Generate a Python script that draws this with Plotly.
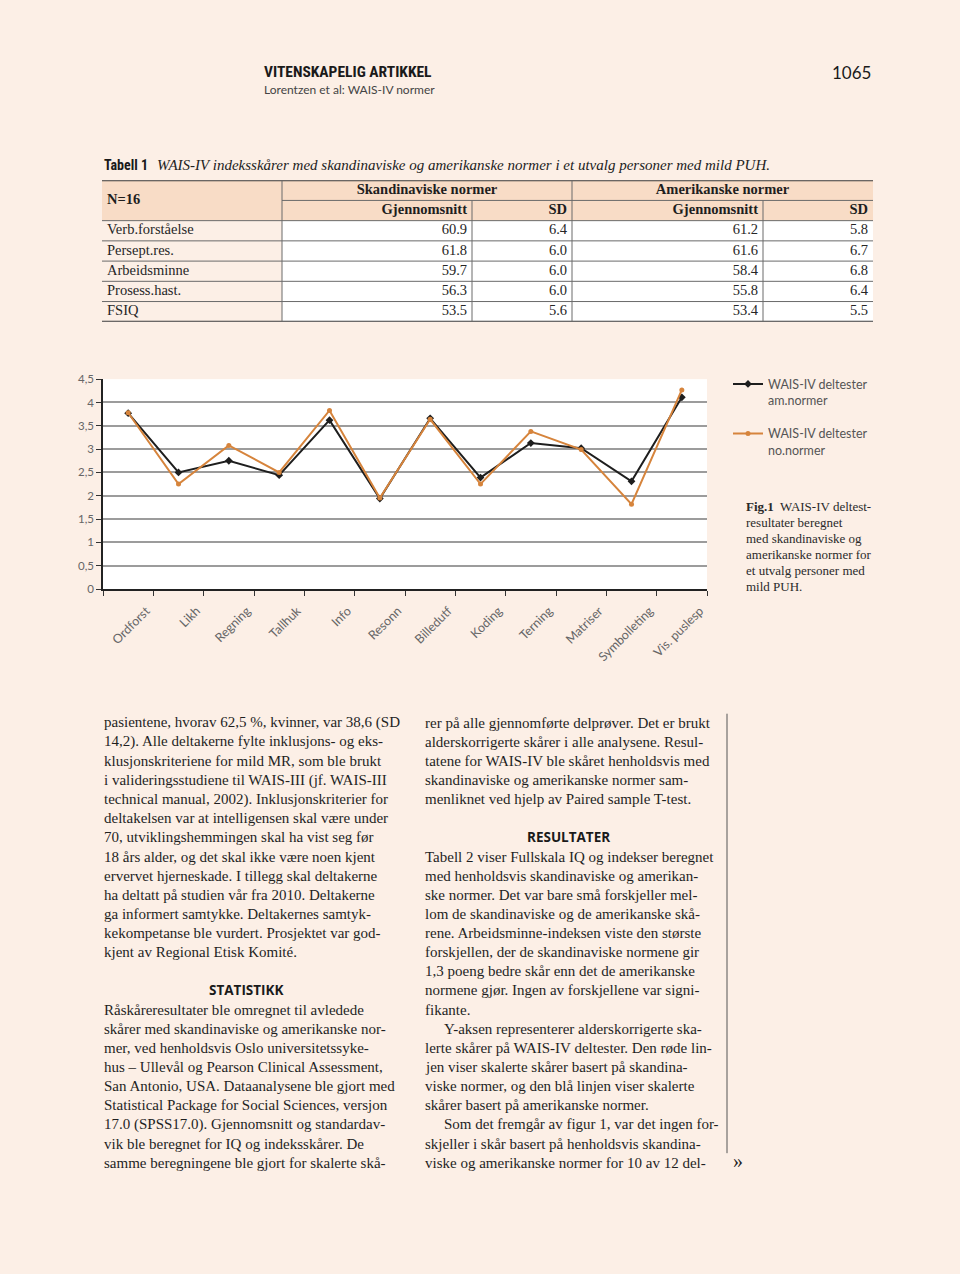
import plotly.graph_objects as go

W, H = 960, 1274
BG = "#fcefe6"
PEACH = "#f8dcc6"
INK = "#1f1f1f"

# ---------------- data ----------------
subtests = ["Ordforst", "Likh", "Regning", "Tallhuk", "Info", "Resonn",
            "Billedutf", "Koding", "Terning", "Matriser", "Symbolleting", "Vis. puslesp"]
am_normer = [3.77, 2.50, 2.75, 2.44, 3.62, 1.94, 3.66, 2.39, 3.13, 3.02, 2.31, 4.11]
no_normer = [3.78, 2.25, 3.08, 2.50, 3.83, 1.95, 3.64, 2.25, 3.38, 2.99, 1.82, 4.27]

table_rows = ["Verb.forståelse", "Persept.res.", "Arbeidsminne", "Prosess.hast.", "FSIQ"]
skand_mean = [60.9, 61.8, 59.7, 56.3, 53.5]
skand_sd = [6.4, 6.0, 6.0, 6.0, 5.6]
amer_mean = [61.2, 61.6, 58.4, 55.8, 53.4]
amer_sd = [5.8, 6.7, 6.8, 6.4, 5.5]
group_headers = ["Skandinaviske normer", "Amerikanske normer"]
sub_headers = ["Gjennomsnitt", "SD", "Gjennomsnitt", "SD"]
n_label = "N=16"

left_col = [
    "pasientene, hvorav 62,5 %, kvinner, var 38,6 (SD",
    "14,2). Alle deltakerne fylte inklusjons- og eks-",
    "klusjonskriteriene for mild MR, som ble brukt",
    "i valideringsstudiene til WAIS-III (jf. WAIS-III",
    "technical manual, 2002). Inklusjonskriterier for",
    "deltakelsen var at intelligensen skal være under",
    "70, utviklingshemmingen skal ha vist seg før",
    "18 års alder, og det skal ikke være noen kjent",
    "ervervet hjerneskade. I tillegg skal deltakerne",
    "ha deltatt på studien vår fra 2010. Deltakerne",
    "ga informert samtykke. Deltakernes samtyk-",
    "kekompetanse ble vurdert. Prosjektet var god-",
    "kjent av Regional Etisk Komité.",
    "",
    "#STATISTIKK",
    "Råskåreresultater ble omregnet til avledede",
    "skårer med skandinaviske og amerikanske nor-",
    "mer, ved henholdsvis Oslo universitetssyke-",
    "hus – Ullevål og Pearson Clinical Assessment,",
    "San Antonio, USA. Dataanalysene ble gjort med",
    "Statistical Package for Social Sciences, versjon",
    "17.0 (SPSS17.0). Gjennomsnitt og standardav-",
    "vik ble beregnet for IQ og indeksskårer. De",
    "samme beregningene ble gjort for skalerte skå-",
]
right_col = [
    "rer på alle gjennomførte delprøver. Det er brukt",
    "alderskorrigerte skårer i alle analysene. Resul-",
    "tatene for WAIS-IV ble skåret henholdsvis med",
    "skandinaviske og amerikanske normer sam-",
    "menliknet ved hjelp av Paired sample T-test.",
    "",
    "#RESULTATER",
    "Tabell 2 viser Fullskala IQ og indekser beregnet",
    "med henholdsvis skandinaviske og amerikan-",
    "ske normer. Det var bare små forskjeller mel-",
    "lom de skandinaviske og de amerikanske skå-",
    "rene. Arbeidsminne-indeksen viste den største",
    "forskjellen, der de skandinaviske normene gir",
    "1,3 poeng bedre skår enn det de amerikanske",
    "normene gjør. Ingen av forskjellene var signi-",
    "fikante.",
    ">Y-aksen representerer alderskorrigerte ska-",
    "lerte skårer på WAIS-IV deltester. Den røde lin-",
    "jen viser skalerte skårer basert på skandina-",
    "viske normer, og den blå linjen viser skalerte",
    "skårer basert på amerikanske normer.",
    ">Som det fremgår av figur 1, var det ingen for-",
    "skjeller i skår basert på henholdsvis skandina-",
    "viske og amerikanske normer for 10 av 12 del-",
]
caption_lines = ["<b>Fig.1</b>  WAIS-IV deltest-", "resultater beregnet", "med skandinaviske og",
                 "amerikanske normer for", "et utvalg personer med", "mild PUH."]

# ---------------- fonts ----------------
SERIF = "Liberation Serif, DejaVu Serif, serif"
SANS = "Open Sans, Liberation Sans, sans-serif"
LIGHT = "Lato, Open Sans, Liberation Sans, sans-serif"
COND = "Liberation Sans Narrow, Roboto Condensed, Roboto, Liberation Sans, sans-serif"


def px(x):
    return x / W


def py(y):
    return 1 - y / H


fig = go.Figure()

# ---------------- chart ----------------
fig.add_trace(go.Scatter(
    x=subtests, y=am_normer, name="WAIS-IV deltester<br>am.normer", legendgroup="am",
    mode="lines+markers", line=dict(color="#1e1e1e", width=2),
    marker=dict(symbol="diamond", size=6, color="#1e1e1e"), xaxis="x", yaxis="y"))
fig.add_trace(go.Scatter(
    x=subtests, y=no_normer, name="WAIS-IV deltester<br>no.normer", legendgroup="no",
    mode="lines+markers", line=dict(color="#d6843c", width=2),
    marker=dict(symbol="circle", size=5, color="#d6843c"), xaxis="x", yaxis="y"))

# ---------------- table (own hidden axes) ----------------
col_edges = [0, 180, 370, 470, 661, 771]  # widths in px units
n_rows = 2 + len(table_rows)
row_mid = [2.5 + i for i in range(len(table_rows))]
tfont = dict(family=SERIF, size=14.5, color="#262626")
pad = 5

fig.add_trace(go.Scatter(x=[pad] * len(table_rows), y=row_mid, text=table_rows, mode="text",
                         textposition="middle right", textfont=tfont, showlegend=False,
                         hoverinfo="skip", xaxis="x2", yaxis="y2"))
for j, col in enumerate([skand_mean, skand_sd, amer_mean, amer_sd]):
    fig.add_trace(go.Scatter(x=[col_edges[j + 2] - pad] * len(col), y=row_mid,
                             text=[f"{v:.1f}" for v in col], mode="text",
                             textposition="middle left", textfont=tfont, showlegend=False,
                             hoverinfo="skip", xaxis="x2", yaxis="y2"))
hfont = dict(family=SERIF, size=14.5, color="#1e1e1e")
fig.add_trace(go.Scatter(x=[col_edges[j + 2] - pad for j in range(4)], y=[1.5] * 4,
                         text=[f"<b>{s}</b>" for s in sub_headers], mode="text",
                         textposition="middle left", textfont=hfont, showlegend=False,
                         hoverinfo="skip", xaxis="x2", yaxis="y2"))
fig.add_trace(go.Scatter(x=[(col_edges[1] + col_edges[3]) / 2, (col_edges[3] + col_edges[5]) / 2],
                         y=[0.5, 0.5], text=[f"<b>{s}</b>" for s in group_headers], mode="text",
                         textposition="middle center", textfont=hfont, showlegend=False,
                         hoverinfo="skip", xaxis="x2", yaxis="y2"))
fig.add_trace(go.Scatter(x=[pad], y=[1.0], text=[f"<b>{n_label}</b>"], mode="text",
                         textposition="middle right", textfont=hfont, showlegend=False,
                         hoverinfo="skip", xaxis="x2", yaxis="y2"))

shapes = []
tb = dict(xref="x2", yref="y2", layer="below")
shapes.append(dict(type="rect", x0=0, x1=col_edges[-1], y0=0, y1=2, fillcolor=PEACH,
                   line=dict(width=0), **tb))
shapes.append(dict(type="rect", x0=0, x1=col_edges[1], y0=2, y1=n_rows, fillcolor=BG,
                   line=dict(width=0), **tb))
LC = "#6a6a6a"
shapes.append(dict(type="line", x0=col_edges[1], x1=col_edges[-1], y0=1, y1=1,
                   line=dict(color=LC, width=1), **tb))
for r in range(2, n_rows):
    shapes.append(dict(type="line", x0=0, x1=col_edges[-1], y0=r, y1=r,
                       line=dict(color=LC, width=1), **tb))
for r in (0, n_rows):
    shapes.append(dict(type="line", x0=0, x1=col_edges[-1], y0=r, y1=r,
                       line=dict(color="#3a3a3a", width=2), **tb))
for c in (col_edges[1], col_edges[3]):
    shapes.append(dict(type="line", x0=c, x1=c, y0=0, y1=n_rows, line=dict(color=LC, width=1), **tb))
for c in (col_edges[2], col_edges[4]):
    shapes.append(dict(type="line", x0=c, x1=c, y0=1, y1=n_rows, line=dict(color=LC, width=1), **tb))

# column divider in body text
shapes.append(dict(type="line", xref="paper", yref="paper", x0=px(727), x1=px(727),
                   y0=py(714), y1=py(1158), line=dict(color="#555", width=1)))

# ---------------- annotations ----------------
ann = []


def T(x, y, text, size, family, color=INK, xanchor="left"):
    ann.append(dict(xref="paper", yref="paper", x=px(x), y=py(y), text=text, showarrow=False,
                    xanchor=xanchor, yanchor="middle", align="left",
                    font=dict(size=size, family=family, color=color)))


T(262, 66, "<b>VITENSKAPELIG ARTIKKEL</b>", 15.5, COND, "#1a1a1a")
T(262, 83, "Lorentzen et al: WAIS-IV normer", 12, LIGHT, "#444")
T(873, 66, "1065", 17, LIGHT, "#1a1a1a", xanchor="right")

T(102, 160, "<b>Tabell 1</b>", 14, COND, "#1a1a1a")
T(155, 160, "<i>WAIS-IV indeksskårer med skandinaviske og amerikanske normer i et utvalg personer med mild PUH.</i>",
  15, SERIF, "#222")

LINE = 19.33
for col_x, lines in ((102, left_col), (423, right_col)):
    for i, s in enumerate(lines):
        if not s:
            continue
        y = 723 + i * LINE
        if s.startswith("#"):
            T(col_x + 145, y, f"<b>{s[1:]}</b>", 13.5, SANS, "#1a1a1a", xanchor="center")
        elif s.startswith(">"):
            T(col_x + 19, y, s[1:], 15, SERIF, INK)
        else:
            T(col_x, y, s, 15, SERIF, INK)

T(731, 1166, "»", 20, SERIF, INK)

for i, s in enumerate(caption_lines):
    T(744, 505 + i * 16, s, 13, SERIF, "#2a2a2a")

fig.update_layout(
    width=W, height=H, margin=dict(l=0, r=0, t=0, b=0),
    paper_bgcolor=BG, plot_bgcolor="white", separators=", ",
    showlegend=True,
    legend=dict(x=px(728), y=py(366), xanchor="left", yanchor="top", bgcolor="rgba(0,0,0,0)",
                font=dict(family=LIGHT, size=12.5, color="#555"), itemwidth=30,
                tracegroupgap=14, valign="top"),
    xaxis=dict(domain=[px(103), px(707)], anchor="y", type="category", range=[-0.5, 11.5],
               showline=True, linecolor="#222", linewidth=1.5, ticks="outside", tickson="boundaries",
               ticklen=5, tickcolor="#333", tickangle=-45, showgrid=False,
               tickfont=dict(family=LIGHT, size=12.5, color="#666"), ticklabelstandoff=8,
               ticklabelshift=18, fixedrange=True),
    yaxis=dict(domain=[py(588), py(376)], anchor="x", range=[0, 4.5], dtick=0.5, tick0=0,
               showgrid=True, gridcolor="#9c9c9c", gridwidth=1.5, zeroline=False,
               showline=True, linecolor="#222", linewidth=1.5, ticks="outside", ticklen=5,
               tickcolor="#333", tickfont=dict(family=LIGHT, size=11.5, color="#666"),
               fixedrange=True),
    xaxis2=dict(domain=[px(102), px(873)], anchor="y2", range=[0, col_edges[-1]], visible=False,
                fixedrange=True),
    yaxis2=dict(domain=[py(318), py(175)], anchor="x2", range=[n_rows, 0], visible=False,
                fixedrange=True),
    shapes=shapes,
    annotations=ann,
)

fig.write_html("out.html", config={"displayModeBar": False},
               post_script="document.body.style.margin='0';document.body.style.overflow='hidden';")
